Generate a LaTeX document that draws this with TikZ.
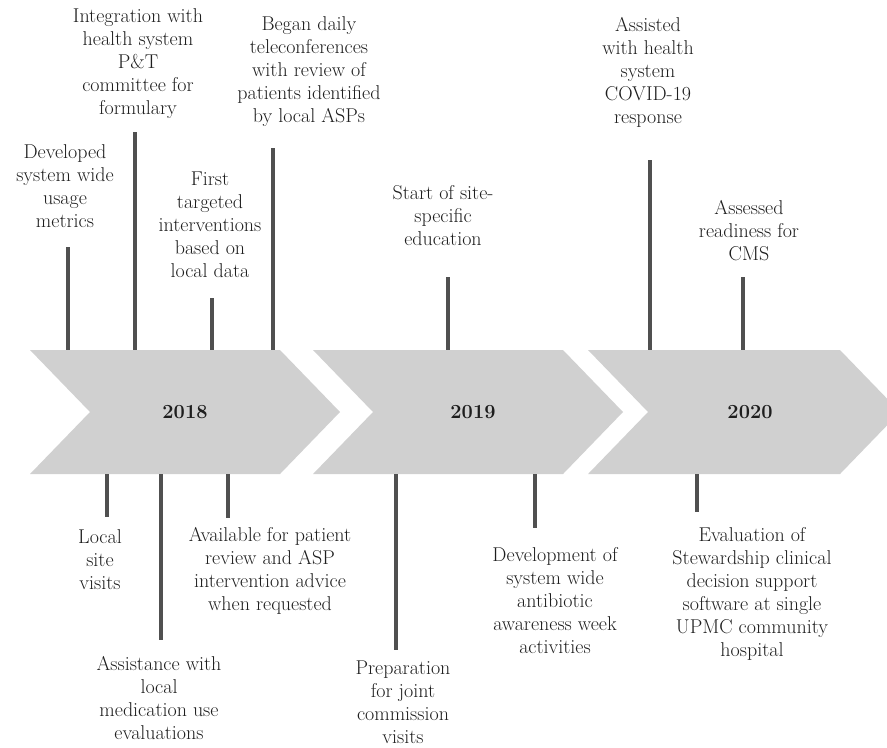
\documentclass[tikz,border=0pt]{standalone}
\begin{document}
\begin{tikzpicture}[x=0.75pt,y=-0.75pt,
  chev/.style={fill=chevgray,draw=none},
  stem/.style={draw=stemgray,line width=2.3pt},
  lbl/.style={align=center,inner sep=0pt,text=txtgray,font=\fontsize{15pt}{17.25pt}\selectfont},
  yr/.style={inner sep=0pt,text=txtgray,font=\fontsize{15pt}{17pt}\selectfont\bfseries}]
\definecolor{chevgray}{HTML}{D0D0D0}
\definecolor{stemgray}{HTML}{505050}
\definecolor{txtgray}{HTML}{1E1E1E}
\useasboundingbox (0,0) rectangle (887,747);
\begin{scope}
\clip (0,0) rectangle (887,747);
\fill[chev] (30,350) -- (280,350) -- (340,412) -- (280,474) -- (30,474) -- (90,412) -- cycle;
\fill[chev] (313,350) -- (563,350) -- (623,412) -- (563,474) -- (313,474) -- (373,412) -- cycle;
\fill[chev] (588,350) -- (840,350) -- (900,412) -- (840,474) -- (588,474) -- (648,412) -- cycle;
\end{scope}
\node[yr] (y18) at (185,412) {2018};
\node[yr] (y19) at (473,412) {2019};
\node[yr] (y20) at (750,412) {2020};
% top labels
\node[lbl] (a1) at (65,186) {Developed\\system wide\\usage\\metrics};
\node[lbl] (a2) at (138,64) {Integration with\\health system\\P\&T\\committee for\\formulary};
\node[lbl] (a3) at (210,225) {First\\targeted\\interventions\\based on\\local data};
\node[lbl] (a4) at (309,72) {Began daily\\teleconferences\\with review of\\patients identified\\by local ASPs};
\node[lbl] (a5) at (443,216) {Start of site-\\specific\\education};
\node[lbl] (a6) at (648,72) {Assisted\\with health\\system\\COVID-19\\response};
\node[lbl] (a7) at (749,231) {Assessed\\readiness for\\CMS};
% bottom labels
\node[lbl] (b1) at (100,560) {Local\\site\\visits};
\node[lbl] (b2) at (159,698) {Assistance with\\local\\medication use\\evaluations};
\node[lbl] (b3) at (270,571) {Available for patient\\review and ASP\\intervention advice\\when requested};
\node[lbl] (b4) at (403,702) {Preparation\\for joint\\commission\\visits};
\node[lbl] (b5) at (555,601) {Development of\\system wide\\antibiotic\\awareness week\\activities};
\node[lbl] (b6) at (752,594) {Evaluation of\\Stewardship clinical\\decision support\\software at single\\UPMC community\\hospital};
% stem ends
\coordinate (s1a) at (68,247);  \coordinate (s1b) at (68,350);
\coordinate (s2a) at (135,132); \coordinate (s2b) at (135,350);
\coordinate (s3a) at (212,298); \coordinate (s3b) at (212,350);
\coordinate (s4a) at (273,148); \coordinate (s4b) at (273,350);
\coordinate (s5a) at (448,277); \coordinate (s5b) at (448,350);
\coordinate (s6a) at (650,160); \coordinate (s6b) at (650,350);
\coordinate (s7a) at (743,277); \coordinate (s7b) at (743,350);
\coordinate (t1a) at (107,474); \coordinate (t1b) at (107,517);
\coordinate (t2a) at (161,474); \coordinate (t2b) at (161,640);
\coordinate (t3a) at (228,474); \coordinate (t3b) at (228,518);
\coordinate (t4a) at (396,474); \coordinate (t4b) at (396,650);
\coordinate (t5a) at (535,474); \coordinate (t5b) at (535,528);
\coordinate (t6a) at (697,474); \coordinate (t6b) at (697,512);
\foreach \s in {s1,s2,s3,s4,s5,s6,s7,t1,t2,t3,t4,t5,t6}
  \draw[stem] (\s a) -- (\s b);
\end{tikzpicture}
\end{document}
